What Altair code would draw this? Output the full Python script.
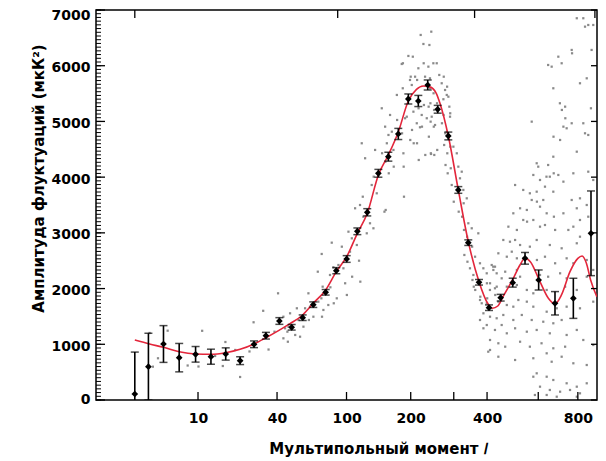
import altair as alt
import pandas as pd
import numpy as np

# ---------------- data ----------------
bin_l = [2, 3, 4.5, 6.6, 9.5, 13.0, 17.2, 22.2, 28.0, 33.8, 41.4, 49.4, 57.5, 66.2, 77.6,
         88.5, 100.2, 113.4, 126.8, 143.2, 159.2, 176.5, 195.3, 215.5, 235.9, 259.1, 285.6,
         312.4, 341.0, 373.8, 406.5, 447.4, 492.6, 542.4, 601.8, 679.3, 775.0, 876.3]
bin_val = [108, 598, 1005, 760, 820, 777, 826, 706, 1000, 1154, 1418, 1305, 1477, 1711, 1933,
           2321, 2531, 3028, 3369, 4069, 4367, 4775, 5403, 5367, 5654, 5218, 4739,
           3770, 2824, 2113, 1657, 1836, 2106, 2543, 2154, 1736, 1825, 2992]
bin_err = [752, 600, 330, 255, 140, 135, 110, 70, 60, 60, 60, 50, 50, 50, 50,
           55, 60, 60, 65, 70, 80, 100, 90, 100, 90, 70, 70,
           60, 50, 50, 50, 60, 80, 105, 180, 210, 360, 760]

curve_l = [2, 3.1, 4.5, 6.6, 9.5, 13, 17.2, 22.2, 28, 33.8, 41.4, 48.3, 57.5, 66.2, 77.6, 88.5,
           100.2, 113.4, 126.8, 143.2, 159.2, 176.5, 195.3, 211.7, 225.7, 240.5, 255.7, 264.6,
           285.6, 312.4, 341, 373.8, 402, 418, 437, 456, 495, 521.6, 542, 565, 607.7, 647, 679,
           712, 756.8, 800, 824, 849, 874, 912]
curve_v = [1077, 1005, 946, 867, 826, 820, 849, 910, 1005, 1118, 1255, 1370, 1526, 1736, 1975, 2303,
           2572, 2992, 3351, 4039, 4398, 4811, 5367, 5574, 5636, 5620, 5505, 5326,
           4739, 3770, 2842, 2124, 1736, 1646, 1687, 1854, 2184, 2423, 2543, 2483, 2124, 1825, 1723,
           1885, 2303, 2543, 2585, 2454, 2154, 1854]

scatter_l = [
    3.1, 3.4, 3.9, 5.0, 8.0, 10.1, 10.9, 14.1, 16.3, 17.1, 20.4, 22.2, 26.0, 27.8, 32.4, 35.2,
    38.5, 40.6, 43.9, 46.5, 46.8, 47.2,
    41.8, 43.9, 45.0, 48.3, 51.9, 53.1, 54.3, 55.5, 58.1, 59.4, 62.1, 62.5, 63.4, 66.3, 70.7,
    70.2, 73.8, 73.5, 74.1, 74.7, 75.4, 80.2, 81.9, 82.3, 83.7, 85.4, 85.8, 89.0, 90.8, 94.6,
    96.4, 98.4, 100.4, 102.3, 104.2, 106.4, 106.8, 110.5, 112.7, 115.6, 116.9, 117.3, 120.6,
    121.4, 126.1, 130.7, 133.2, 135.7, 140.7, 152.8,
    119.2, 123.8, 136.1, 138.2, 148.5, 149, 153.9, 154.3, 156.7, 159.4, 159.9, 162.1, 165.1,
    167.9, 168.4, 173.9, 174.4, 182.8, 184.7, 185.9, 186.4, 189.1, 195.4, 198.6, 199.1, 202.1,
    202.6, 204.2, 205.4, 208.8, 212.3, 212.8, 215.6, 216, 216.4, 219.0, 222.7, 226.4, 227,
    227.5, 230.0, 230.5, 233.8, 237.4, 239.7, 241.0, 241.5, 242, 242.5, 243, 248.8, 249.3,
    249.8, 256.8,
    244, 220.5, 185, 200, 213, 262.9, 268.9, 277.3, 281.6, 273.1, 288.3, 257.5, 250.5, 238,
    273.6, 245, 223.3, 269.5, 290.1, 282, 252.8, 192.3,
    154.8, 187, 183.4, 274, 282.5, 285.8, 290.6, 277.8, 251, 238.5, 206,
    243.5, 258, 275, 283, 291, 299, 308.2, 278.5, 284, 292, 312.5, 322, 317.1, 294.6, 326.6,
    300, 327.5, 336.5, 313.5, 323, 341.1, 351.3, 328.5, 337.5, 371.6, 352.5, 329.5, 361.5,
    338.5, 376.9, 346, 387.8, 356.3, 398.9, 415.7, 421.4, 427.2, 353.5, 357.5, 399.5, 409.7,
    433.2, 428, 378, 382.5, 400.5,
    794, 831, 841, 860, 890, 880, 766, 768, 646, 663, 696, 713, 812, 851, 671, 876, 704, 731,
    714, 732, 766, 831, 722, 739, 571, 841, 860, 672, 705, 794, 921, 671, 646, 593, 600, 673,
    696, 775, 890, 860, 578, 638, 654, 608, 722, 502, 535, 563, 593, 631, 571, 594, 623, 671,
    766, 812, 522, 550, 608, 639, 674, 722, 794, 851, 495, 476, 509, 535, 551, 578, 608, 631,
    680, 748, 775, 812, 860, 457, 482, 502, 522, 563, 593, 654, 713, 794, 812, 439, 470, 489,
    509, 594, 631, 680, 739, 775, 851, 890, 421, 433, 451, 464, 509, 522, 608, 646, 705, 739,
    851, 410, 427, 470, 509, 550, 578, 639, 731, 794, 377, 399, 439, 470, 495, 515, 550, 578,
    639, 688, 739, 812, 890, 388, 410, 433, 457, 495, 529, 571, 623, 671, 713, 399, 427, 451,
    470, 502, 550, 593, 654, 739, 794, 410, 439, 464, 522, 563, 615, 671, 731, 831, 890, 404,
    439, 502, 578, 639, 663, 713, 775, 851, 593, 639, 671, 739, 794, 851, 578, 608, 654, 705,
    757, 812, 585, 639, 688, 794, 362, 377, 388, 410]
scatter_v = [
    1203, 598, 749, 1244, 619, 601, 1242, 790, 610, 1041, 898, 413, 871, 1395, 1601, 906,
    1226, 1915, 1107, 1226, 1046, 1316,
    1436, 1495, 1287, 1556, 1167, 1646, 1436, 1136, 1316, 1646, 1915, 1436, 1675, 1495, 1765,
    2303, 2621, 1825, 1495, 2034, 1616, 1705, 2244, 2023, 2824, 2382, 1736, 1825, 2423, 2752,
    2364, 2095, 1885, 3021, 2662, 2902, 2213, 3441, 2782, 2500, 3500, 2124, 3649,
    3290, 2992, 3172, 3859, 3082, 3710, 3380,
    4608, 4339, 4008, 4488, 5236, 4429, 4906, 4277, 4608, 4757, 4069, 5116, 4816,
    4488, 4188, 5475, 5026, 6031, 5595, 4428, 4188, 5057, 6175, 5744, 4667, 5654,
    4847, 6162, 5175, 5803, 4967, 4608, 5954, 5236, 4308, 4895, 5116, 6390, 6044,
    5295, 5803, 4398, 5057, 5983, 6372, 5774, 5595, 5326, 4996, 4428, 6044, 5505,
    4906, 6044,
    6611, 6552, 6044, 5803, 5744, 5834, 5685, 5564, 5475, 5398, 5265, 5326, 5206, 5265,
    5116, 5085, 4906, 4967, 5085, 4816, 4936, 5085,
    3411, 3649, 4787, 5803, 5624, 5444, 5146, 4787, 4398, 4726, 4608,
    4416, 4488, 4577, 4428, 4547, 4547, 4428, 4218, 4069, 4159, 4188, 4098, 3979, 3859, 3770,
    3559, 3531, 3620, 3380, 3290, 3172, 3082, 3052, 2931, 2992, 2752, 2603, 2572,
    2482, 2454, 2364, 2364, 2244, 2274, 2423, 2334, 2393, 2154, 2034, 2095, 1975,
    2034, 1885, 1854, 1736, 1825,
    6852, 6852, 6701, 6731, 6731, 6283, 6283, 6223, 6013, 5983, 6162, 6044, 5685, 5774, 5595,
    5236, 5326, 5265, 5206, 5057, 4967, 4967, 4906, 4877, 4996, 4787, 4757, 4726, 4667, 4457,
    4249, 4367, 4218, 4249, 4188, 4069, 4039, 4069, 3949, 4098, 4039, 4008, 4008, 3949, 3919,
    3859, 3770, 3710, 3739, 3829, 3590, 3560, 3590, 3739, 3590, 3620, 3441, 3411, 3470, 3351,
    3290, 3351, 3441, 3500, 3351, 3111, 3052, 3231, 3201, 3231, 3111, 3141, 3052, 3052, 3111,
    3231, 3290, 2872, 2841, 2872, 2782, 2752, 2872, 2782, 2723, 2813, 2931, 2633, 2572, 2662,
    2543, 2513, 2572, 2454, 2543, 2454, 2513, 2334, 2393, 2274, 2184, 2303, 2334, 2213, 2244,
    2213, 2274, 2184, 2213, 2095, 2005, 2034, 2064, 1975, 1915, 1975, 2034, 1975, 1795, 1736,
    1765, 1705, 1675, 1795, 1765, 1675, 1585, 1646, 1675, 1646, 1765, 1556, 1495, 1467, 1526,
    1436, 1526, 1436, 1405, 1377, 1436, 1346, 1257, 1346, 1197, 1287, 1226, 1257, 1197, 1167,
    1257, 1077, 1018, 957, 1046, 957, 1018, 928, 957, 1077, 987, 867, 777, 718, 749, 838, 687,
    777, 659, 628, 479, 418, 359, 300, 239, 300, 418, 239, 180, 149, 180, 120, 90, 90, 59, 59,
    1975, 1436, 1287, 898]

x_label_vals = [10, 40, 100, 200, 400, 800]
x_bottom_ticks = [10, 40, 100, 200, 300, 400, 600, 800]
x_top_ticks = [2, 90, 360, 900]
y_label_vals = [0, 1000, 2000, 3000, 4000, 5000, 6000, 7000]
y_minor_ticks = list(np.arange(0, 7001, 1000 / 15))

# ---------------- chart ----------------
W, H = 501, 390
FONT = "DejaVu Sans"

x_scale = alt.Scale(type="pow", exponent=0.25, domain=[0.469, 912.9], nice=False, zero=False)
y_scale = alt.Scale(domain=[0, 7000], nice=False, zero=False)

df_sc = pd.DataFrame({"l": scatter_l, "v": scatter_v})
df_curve = pd.DataFrame({"l": curve_l, "v": curve_v})
df_bin = pd.DataFrame({"l": bin_l, "v": bin_val, "e": bin_err})
df_bin["lo"] = df_bin["v"] - df_bin["e"]
df_bin["hi"] = df_bin["v"] + df_bin["e"]
df_caps = pd.concat([
    pd.DataFrame({"l": bin_l, "v": df_bin["lo"]}),
    pd.DataFrame({"l": bin_l, "v": df_bin["hi"]}),
])

x_axis = alt.Axis(values=x_label_vals, format="d", ticks=False, domain=False,
                  grid=False, labelFont=FONT, labelFontSize=14, labelFontWeight="bold",
                  labelColor="black", labelPadding=11, labelOverlap=False,
                  title="Мультипольный момент 𝑙", titleFont=FONT, titleFontSize=15,
                  titleFontWeight="bold", titleColor="black", titleX=282, titleY=48,
                  titleAlign="center", titleBaseline="middle")
y_axis = alt.Axis(values=y_label_vals, format="d", ticks=False, domain=False,
                  grid=False, labelFont=FONT, labelFontSize=14, labelFontWeight="bold",
                  labelColor="black", labelPadding=6,
                  labelOffset={"condition": [{"test": "datum.value == 7000", "value": 5},
                                             {"test": "datum.value == 0", "value": -1}],
                               "value": 2},
                  labelOverlap=False,
                  title="Амплитуда флуктуаций (мкК²)", titleFont=FONT, titleFontSize=15,
                  titleFontWeight="bold", titleColor="black", titleX=-58, titleY=168,
                  titleAlign="center", titleBaseline="middle")

X = alt.X("l:Q", scale=x_scale, axis=x_axis)
Y = alt.Y("v:Q", scale=y_scale, axis=y_axis)

scatter = alt.Chart(df_sc).mark_square(size=5, color="#8a8a8a", opacity=1, clip=True).encode(
    x=X, y=Y)

curve = alt.Chart(df_curve).mark_line(color="#e3263b", strokeWidth=1.6, interpolate="monotone",
                                      clip=True).encode(x=X, y=Y)

bars = alt.Chart(df_bin).mark_rule(color="black", strokeWidth=1.6, clip=True).encode(
    x=X,
    y=alt.Y("lo:Q", scale=y_scale, axis=y_axis),
    y2="hi:Q",
)

caps = alt.Chart(df_caps).mark_tick(orient="horizontal", color="black", size=8, thickness=1.5,
                                    clip=True).encode(x=X, y=Y)

points = alt.Chart(df_bin).mark_point(shape="diamond", filled=True, color="black", size=45,
                                      opacity=1).encode(x=X, y=Y)

tick_style = dict(color="black", strokeWidth=1.3)
y_major_left = alt.Chart(pd.DataFrame({"v": y_label_vals})).mark_rule(**tick_style).encode(
    y=Y, x=alt.value(0), x2=alt.value(9))
y_major_right = alt.Chart(pd.DataFrame({"v": y_label_vals})).mark_rule(**tick_style).encode(
    y=Y, x=alt.value(W - 6), x2=alt.value(W))
y_minor_left = alt.Chart(pd.DataFrame({"v": y_minor_ticks})).mark_rule(color="black", strokeWidth=1).encode(
    y=Y, x=alt.value(0), x2=alt.value(5))
x_bottom = alt.Chart(pd.DataFrame({"l": x_bottom_ticks})).mark_rule(**tick_style).encode(
    x=X, y=alt.value(H - 8), y2=alt.value(H))
x_top = alt.Chart(pd.DataFrame({"l": x_top_ticks})).mark_rule(**tick_style).encode(
    x=X, y=alt.value(0), y2=alt.value(8))

chart = alt.layer(
    scatter, curve, bars, caps, points,
    y_minor_left, y_major_left, y_major_right, x_bottom, x_top,
).properties(
    width=W, height=H,
    background="white",
    autosize=alt.AutoSizeParams(type="none"),
    padding={"left": 88, "top": 2, "right": 1, "bottom": 58},
).configure_view(
    stroke="black", strokeWidth=1.5,
)

chart.save("out.html", embed_options={"renderer": "svg", "actions": False})
